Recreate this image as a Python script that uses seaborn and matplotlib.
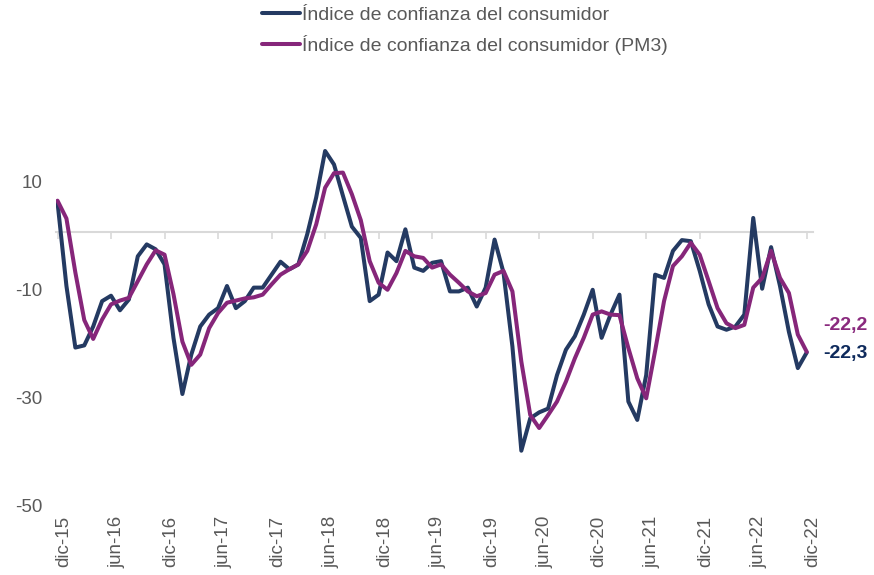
import numpy as np
import pandas as pd
import matplotlib
matplotlib.use("Agg")
import matplotlib.pyplot as plt
import matplotlib.transforms as mtransforms
import seaborn as sns
from matplotlib.lines import Line2D

# ---- data ----
months = ["dic-15", "jun-16", "dic-16", "jun-17", "dic-17", "jun-18", "dic-18", "jun-19",
          "dic-19", "jun-20", "dic-20", "jun-21", "dic-21", "jun-22", "dic-22"]

ici = [5.5, -10.0, -21.4, -21.0, -17.5, -12.8, -11.8, -14.5, -12.5, -4.5,
       -2.3, -3.2, -6.0, -19.6, -30.0, -22.7, -17.5, -15.3, -14.1, -10.0,
       -14.1, -12.8, -10.3, -10.3, -7.9, -5.5, -6.9, -6.0, -0.4, 6.4,
       15.0, 12.5, 6.7, 1.0, -1.1, -12.8, -11.6, -3.8, -5.4, 0.5,
       -6.6, -7.2, -5.7, -5.4, -11.0, -11.0, -10.3, -13.8, -10.3, -1.4,
       -7.5, -21.2, -40.5, -34.5, -33.4, -32.7, -26.5, -21.8, -19.3, -15.3,
       -10.7, -19.6, -15.3, -11.6, -31.4, -34.8, -26.5, -7.9, -8.5, -3.5,
       -1.5, -1.7, -7.2, -13.4, -17.5, -18.1, -17.5, -15.3, 2.6, -10.5,
       -2.8, -10.0, -18.5, -25.2, -22.3]

ici_pm3 = [5.8, 2.5, -7.5, -16.3, -19.8, -16.2, -13.4, -12.7, -12.2, -9.1,
           -6.0, -3.4, -4.2, -11.5, -20.3, -24.6, -22.7, -17.8, -15.0, -13.1,
           -12.7, -12.3, -12.1, -11.6, -9.7, -7.9, -6.9, -6.0, -3.5, 1.4,
           8.2, 10.9, 11.0, 7.0, 2.2, -5.4, -9.4, -10.7, -7.6, -3.5,
           -4.5, -4.8, -6.6, -6.0, -7.9, -9.4, -11.0, -11.9, -11.3, -7.9,
           -7.2, -11.0, -24.0, -33.9, -36.3, -33.9, -31.4, -27.7, -23.4, -19.6,
           -15.3, -14.7, -15.3, -15.4, -21.5, -27.1, -30.8, -22.0, -12.8, -6.3,
           -4.5, -2.0, -4.2, -9.1, -14.1, -16.9, -17.8, -17.2, -10.3, -8.5,
           -3.5, -8.5, -11.3, -19.0, -22.2]

yticks = [10, -10, -30, -50]
end_labels = ["-22,2", "-22,3"]

name1 = "Índice de confianza del consumidor"
name2 = "Índice de confianza del consumidor (PM3)"

c_blue = "#243A62"
c_purple = "#86267A"
c_lab_blue = "#0E2A5C"
c_lab_purple = "#8A2A7E"
c_text = "#595959"
c_grid = "#D9D9D9"

idx = np.arange(len(ici))
df = pd.DataFrame({"t": np.concatenate([idx, idx]),
                   "valor": ici + ici_pm3,
                   "serie": [name1] * len(ici) + [name2] * len(ici_pm3)})

sns.set_theme(style="white")
plt.rcParams["font.family"] = ["Liberation Sans", "DejaVu Sans"]

fig = plt.figure(figsize=(8.74, 5.75), dpi=100)
ymin, ymax = -50, 20
ax = fig.add_axes([56 / 874, (575 - 502) / 575, (813 - 56) / 874, (502 - 124) / 575])

sns.lineplot(data=df, x="t", y="valor", hue="serie",
             palette={name1: c_blue, name2: c_purple},
             linewidth=2.9, ax=ax, legend=False, sort=False)
for line in ax.lines:
    line.set_solid_capstyle("round")
    line.set_solid_joinstyle("round")

ax.set_xlim(-0.17, 84.7)
ax.set_ylim(ymin, ymax)
ax.set_xlabel("")
ax.set_ylabel("")
for s in ax.spines.values():
    s.set_visible(False)

tick_pos = np.arange(0, len(ici), 6)
ax.set_xticks(tick_pos)
ax.set_xticklabels(months, rotation=90, fontsize=13.5, color=c_text)
ax.tick_params(axis="x", length=0, pad=10)
xshift = mtransforms.ScaledTranslation(6 / 100, 0, fig.dpi_scale_trans)
for lab in ax.get_xticklabels():
    lab.set_transform(lab.get_transform() + xshift)

ax.set_yticks(yticks)
ax.set_yticklabels([str(v) for v in yticks], fontsize=13.5, color=c_text)
ax.tick_params(axis="y", length=0, pad=10)
yshift = mtransforms.ScaledTranslation(0, -3 / 100, fig.dpi_scale_trans)
for lab in ax.get_yticklabels():
    lab.set_transform(lab.get_transform() + yshift)

# zero line with tick marks
frac0 = (0 - ymin) / (ymax - ymin)
sec = ax.secondary_xaxis(frac0)
sec.set_alignment("bottom")
sec.set_xticks(tick_pos)
sec.set_xticklabels([])
sec.tick_params(direction="out", length=5, width=1.2, color=c_grid)
for k, s in sec.spines.items():
    s.set_color(c_grid)
    s.set_linewidth(1.5)
ax.set_zorder(2)

# end labels
ax.annotate(end_labels[0], xy=(idx[-1], ici_pm3[-1]), xytext=(12, 19),
            textcoords="offset points", va="center", ha="left",
            fontsize=14, fontweight="bold", color=c_lab_purple, annotation_clip=False)
ax.annotate(end_labels[1], xy=(idx[-1], ici[-1]), xytext=(12, -1),
            textcoords="offset points", va="center", ha="left",
            fontsize=14, fontweight="bold", color=c_lab_blue, annotation_clip=False)

# legend
handles = [Line2D([0], [0], color=c_blue, lw=2.9),
           Line2D([0], [0], color=c_purple, lw=2.9)]
fig.legend(handles, [name1, name2], loc="upper left", bbox_to_anchor=(262 / 874, 0.989),
           frameon=False, fontsize=14, labelcolor=c_text, handlelength=1.95,
           handletextpad=0.1, labelspacing=0.55, borderpad=0, borderaxespad=0)

fig.savefig("out.png", dpi=100)
